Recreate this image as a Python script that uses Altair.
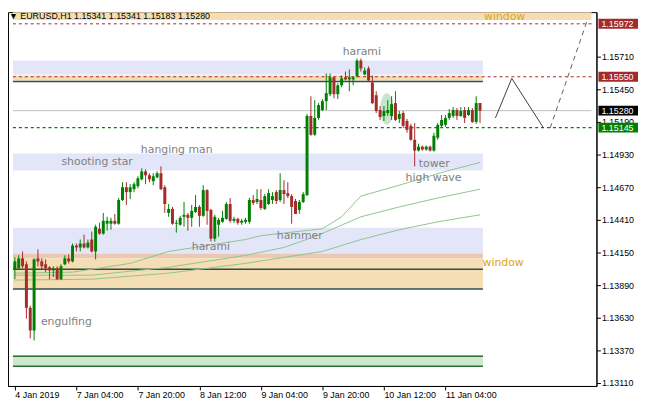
import altair as alt
import pandas as pd

# ---------------- data ----------------
opens = [1.14016,1.14024,1.14103,1.14056,1.13709,1.13528,1.14103,1.14079,1.14056,1.14032,
1.14008,1.14024,1.13937,1.14056,1.14103,1.14079,1.14205,1.14190,1.14221,1.14190,
1.14253,1.14158,1.14339,1.14300,1.14379,1.14379,1.14402,1.14379,1.14568,1.14670,
1.14631,1.14654,1.14678,1.14733,1.14796,1.14765,1.14718,1.14749,1.14781,1.14670,
1.14465,1.14497,1.14379,1.14371,1.14434,1.14450,1.14426,1.14473,1.14513,1.14442,
1.14647,1.14489,1.14260,1.14371,1.14394,1.14418,1.14536,1.14402,1.14418,1.14387,
1.14394,1.14394,1.14568,1.14552,1.14568,1.14497,1.14536,1.14568,1.14631,1.14568,
1.14647,1.14623,1.14599,1.14560,1.14489,1.14552,1.14607,1.15238,1.15088,1.15222,
1.15285,1.15356,1.15411,1.15545,1.15411,1.15482,1.15545,1.15529,1.15529,1.15553,
1.15679,1.15569,1.15616,1.15505,1.15403,1.15285,1.15238,1.15261,1.15238,1.15340,
1.15214,1.15261,1.15198,1.15159,1.15048,1.14962,1.14993,1.14970,1.14993,1.14962,
1.15064,1.15159,1.15167,1.15222,1.15238,1.15285,1.15238,1.15285,1.15245,1.15285,
1.15190,1.15341]
highs = [1.14111,1.14127,1.14158,1.14079,1.13725,1.14103,1.14174,1.14103,1.14095,1.14040,
1.14040,1.14040,1.14056,1.14127,1.14134,1.14221,1.14221,1.14253,1.14292,1.14253,
1.14316,1.14371,1.14387,1.14465,1.14434,1.14426,1.14457,1.14584,1.14710,1.14710,
1.14694,1.14710,1.14757,1.14820,1.14812,1.14781,1.14781,1.14796,1.14836,1.14686,
1.14536,1.14513,1.14410,1.14442,1.14552,1.14465,1.14528,1.14607,1.14528,1.14686,
1.14654,1.14497,1.14450,1.14426,1.14481,1.14552,1.14584,1.14434,1.14426,1.14418,
1.14426,1.14584,1.14607,1.14654,1.14654,1.14615,1.14654,1.14631,1.14647,1.14781,
1.14725,1.14710,1.14615,1.14576,1.14568,1.14631,1.15253,1.15395,1.15364,1.15340,
1.15372,1.15576,1.15576,1.15553,1.15498,1.15561,1.15592,1.15608,1.15553,1.15695,
1.15695,1.15624,1.15632,1.15561,1.15435,1.15316,1.15316,1.15364,1.15395,1.15435,
1.15277,1.15277,1.15214,1.15175,1.15182,1.15017,1.15001,1.15001,1.15001,1.15104,
1.15182,1.15245,1.15245,1.15293,1.15309,1.15301,1.15309,1.15309,1.15309,1.15301,
1.15395,1.15341]
lows = [1.13937,1.14016,1.14024,1.13622,1.13465,1.13449,1.14040,1.14016,1.13993,1.13937,
1.13953,1.13930,1.13930,1.14048,1.14063,1.14071,1.14158,1.14158,1.14182,1.14182,
1.14150,1.14095,1.14292,1.14292,1.14324,1.14331,1.14371,1.14371,1.14560,1.14528,
1.14576,1.14631,1.14662,1.14725,1.14694,1.14710,1.14686,1.14741,1.14647,1.14465,
1.14434,1.14371,1.14308,1.14363,1.14355,1.14324,1.14355,1.14465,1.14355,1.14434,
1.14371,1.14237,1.14237,1.14276,1.14387,1.14410,1.14387,1.14387,1.14371,1.14371,
1.14379,1.14379,1.14528,1.14536,1.14489,1.14489,1.14528,1.14536,1.14536,1.14552,
1.14536,1.14584,1.14379,1.14457,1.14457,1.14544,1.14599,1.15080,1.15080,1.15206,
1.15277,1.15285,1.15395,1.15379,1.15372,1.15466,1.15521,1.15435,1.15482,1.15545,
1.15592,1.15561,1.15513,1.15332,1.15261,1.15206,1.15198,1.15238,1.15206,1.15198,
1.15182,1.15143,1.15104,1.15041,1.14836,1.14954,1.14962,1.14962,1.14954,1.14954,
1.15048,1.15143,1.15151,1.15206,1.15222,1.15206,1.15230,1.15182,1.15238,1.15182,
1.15175,1.15183]
closes = [1.14079,1.14103,1.14040,1.13709,1.13528,1.14095,1.14079,1.14040,1.14024,1.14008,
1.14024,1.13937,1.14040,1.14103,1.14079,1.14205,1.14190,1.14221,1.14190,1.14229,
1.14158,1.14355,1.14300,1.14402,1.14402,1.14402,1.14379,1.14568,1.14670,1.14631,
1.14670,1.14694,1.14741,1.14796,1.14765,1.14733,1.14757,1.14781,1.14654,1.14536,
1.14497,1.14379,1.14387,1.14426,1.14450,1.14426,1.14481,1.14513,1.14442,1.14647,
1.14481,1.14260,1.14434,1.14410,1.14426,1.14536,1.14402,1.14418,1.14387,1.14402,
1.14410,1.14568,1.14544,1.14576,1.14505,1.14599,1.14623,1.14599,1.14560,1.14647,
1.14615,1.14599,1.14513,1.14457,1.14552,1.14615,1.15238,1.15088,1.15222,1.15324,
1.15356,1.15419,1.15545,1.15411,1.15482,1.15537,1.15529,1.15545,1.15545,1.15679,
1.15616,1.15600,1.15521,1.15340,1.15277,1.15230,1.15277,1.15285,1.15332,1.15206,
1.15253,1.15159,1.15127,1.15048,1.14962,1.14993,1.14970,1.14993,1.14962,1.15080,
1.15167,1.15206,1.15222,1.15261,1.15285,1.15238,1.15277,1.15222,1.15285,1.15190,
1.15340,1.15280]

# moving averages (bar index, price)
ma1_bars = [0, 15, 30, 40, 50, 60, 64, 80, 85, 90, 100, 112, 121]
ma1_vals = [1.13985, 1.13993, 1.14063, 1.14158, 1.14205, 1.14253, 1.14284, 1.14339, 1.14434, 1.14599, 1.14686, 1.14796, 1.14867]
ma2_bars = [0, 20, 40, 60, 70, 78, 90, 100, 110, 121]
ma2_vals = [1.13969, 1.13969, 1.14032, 1.14127, 1.14190, 1.14276, 1.14434, 1.14513, 1.14584, 1.14654]
ma3_bars = [0, 20, 40, 60, 80, 90, 100, 110, 121]
ma3_vals = [1.13930, 1.13937, 1.13985, 1.14063, 1.14158, 1.14253, 1.14331, 1.14394, 1.14450]

# zones (price low, price high, colour)
zone_lo = [1.16002, 1.15569, 1.15521, 1.14804, 1.14142, 1.14103, 1.13859, 1.13236]
zone_hi = [1.16065, 1.15679, 1.15561, 1.14938, 1.14347, 1.14142, 1.14103, 1.13331]
zone_end = [150, 121.75, 121.75, 121.75, 121.75, 121.75, 121.75, 121.75]
zone_col = ["#F5DEB3", "#E3E5F9", "#F5DEB3", "#E3E5F9", "#E3E5F9", "#EBC7B5", "#F5DEB3", "#CDE8CD"]

# dark support/resistance lines
dark_levels = [1.15513, 1.14016, 1.13859, 1.13323, 1.13244]
dark_cols = ["#2F4F4F", "#2F4F4F", "#2F4F4F", "#2E6B3A", "#2E6B3A"]

# levels across the chart
red_levels = [1.15972, 1.15550]
green_level = [1.15145]
current_price = [1.15280]

# projection path
proj_solid_x = [125, 129.25, 137.5]
proj_solid_y = [1.15222, 1.15537, 1.15143]
proj_dash_x = [139.25, 148.75]
proj_dash_y = [1.15143, 1.15986]

# pattern labels
lbl_text = ["harami", "hanging man", "shooting star", "harami", "hammer", "tower", "high wave", "engulfing", "window", "window"]
lbl_x = [90.25, 42.1, 21.4, 51.0, 74.1, 109.1, 108.9, 13.4, 127.4, 127.0]
lbl_y = [1.15750, 1.14970, 1.14867, 1.14197, 1.14284, 1.14851, 1.14741, 1.13599, 1.16026, 1.14064]
lbl_col = ["#808080"] * 8 + ["#DAA520", "#DAA520"]

# price tags on the right axis
tag_price = [1.15972, 1.15550, 1.15280, 1.15145]
tag_col = ["#A52A2A", "#A52A2A", "#000000", "#008000"]

y_ticks = [1.13110, 1.13370, 1.13630, 1.13890, 1.14150, 1.14410, 1.14670, 1.14930, 1.15190, 1.15450, 1.15710]
x_tick_bars = [0, 16, 32, 48, 64, 80, 96, 112]
x_tick_labels = ["4 Jan 2019", "7 Jan 04:00", "7 Jan 20:00", "8 Jan 12:00",
                 "9 Jan 04:00", "9 Jan 20:00", "10 Jan 12:00", "11 Jan 04:00"]

title_text = "\u25bc EURUSD,H1  1.15341 1.15341 1.15183 1.15280"

# ---------------- build ----------------
FONT = "Liberation Sans"
xs = alt.Scale(domain=[-0.5, 150], nice=False, zero=False)
ys = alt.Scale(domain=[1.13086, 1.16065], nice=False, zero=False)
label_expr = "[" + ",".join("'%s'" % s for s in x_tick_labels) + "][round(datum.value/16)]"
x_axis = alt.Axis(values=x_tick_bars, labelExpr=label_expr, title=None, grid=False,
                  labelAlign="left", tickSize=4, labelPadding=1, labelFlush=False,
                  labelOverlap=False, domainColor="black", tickColor="black")
y_axis = alt.Axis(values=y_ticks, format=".5f", orient="right", title=None, grid=False,
                  tickSize=4, labelPadding=1, domainColor="black", tickColor="black",
                  labelOverlap=False)

def X(f):
    return alt.X(f, type="quantitative", scale=xs, axis=x_axis)

def Y(f):
    return alt.Y(f, type="quantitative", scale=ys, axis=y_axis)

n = len(opens)
cdf = pd.DataFrame({"bar": list(range(n)), "open": opens, "high": highs, "low": lows, "close": closes})
cdf["color"] = ["#008000" if c >= o else "#A52A2A" for o, c in zip(opens, closes)]

zdf = pd.DataFrame({"x0": [-0.5] * len(zone_lo), "x1": zone_end, "lo": zone_lo, "hi": zone_hi, "col": zone_col})
zones = alt.Chart(zdf).mark_rect().encode(
    x=X("x0"), x2="x1", y=Y("lo"), y2="hi", color=alt.Color("col:N", scale=None))

ddf = pd.DataFrame({"x0": -0.5, "x1": 121.75, "y": dark_levels, "col": dark_cols})
dark = alt.Chart(ddf).mark_rule(strokeWidth=1.5).encode(
    x=X("x0"), x2="x1", y=Y("y"), color=alt.Color("col:N", scale=None))

ma_rows = []
for name, bs, vs in (("ma1", ma1_bars, ma1_vals), ("ma2", ma2_bars, ma2_vals), ("ma3", ma3_bars, ma3_vals)):
    for b, v in zip(bs, vs):
        ma_rows.append({"ma": name, "bar": b, "v": v})
mas = alt.Chart(pd.DataFrame(ma_rows)).mark_line(strokeWidth=1, color="#8FC48F").encode(
    x=X("bar"), y=Y("v"), detail="ma:N")

edf = pd.DataFrame({"bar": [96.75], "y": [1.15293]})
ellipse = alt.Chart(edf).mark_point(
    shape="M -0.42 0 A 0.42 1 0 1 0 0.42 0 A 0.42 1 0 1 0 -0.42 0 Z",
    size=1024, filled=True, color="#BFE3C6", opacity=0.9).encode(x=X("bar"), y=Y("y"))

rdf = pd.DataFrame({"x0": -0.5, "x1": 150, "y": red_levels})
red_lines = alt.Chart(rdf).mark_rule(color="#B22222", strokeDash=[3, 3], strokeWidth=1).encode(
    x=X("x0"), x2="x1", y=Y("y"))
gdf = pd.DataFrame({"x0": -0.5, "x1": 150, "y": green_level})
green_lines = alt.Chart(gdf).mark_rule(color="#008000", strokeDash=[3, 3], strokeWidth=1.3).encode(
    x=X("x0"), x2="x1", y=Y("y"))
cpdf = pd.DataFrame({"x0": -0.5, "x1": 150, "y": current_price})
cur_line = alt.Chart(cpdf).mark_rule(color="#C0C0C0", strokeWidth=1).encode(
    x=X("x0"), x2="x1", y=Y("y"))

wicks = alt.Chart(cdf).mark_rule(strokeWidth=1).encode(
    x=X("bar"), y=Y("low"), y2="high", color=alt.Color("color:N", scale=None))
bodies = alt.Chart(cdf).mark_bar(size=3).encode(
    x=X("bar"), y=Y("open"), y2="close", color=alt.Color("color:N", scale=None))

psdf = pd.DataFrame({"bar": proj_solid_x, "y": proj_solid_y, "o": range(len(proj_solid_x))})
proj_solid = alt.Chart(psdf).mark_line(color="#404040", strokeWidth=1).encode(
    x=X("bar"), y=Y("y"), order="o:Q")
pddf = pd.DataFrame({"bar": proj_dash_x, "y": proj_dash_y})
proj_dash = alt.Chart(pddf).mark_line(color="#606060", strokeWidth=1, strokeDash=[5, 4]).encode(
    x=X("bar"), y=Y("y"))

ldf = pd.DataFrame({"bar": lbl_x, "y": lbl_y, "t": lbl_text, "col": lbl_col})
labels = alt.Chart(ldf).mark_text(font="DejaVu Sans", fontSize=11, align="center", baseline="middle").encode(
    x=X("bar"), y=Y("y"), text="t:N", color=alt.Color("col:N", scale=None))

tdf = pd.DataFrame({"p": tag_price, "col": tag_col, "t": ["%.5f" % p for p in tag_price]})
tag_box = alt.Chart(tdf).mark_rect(yOffset=-5, y2Offset=5).encode(
    x=alt.value(597), x2=alt.value(637), y=Y("p"), y2="p", color=alt.Color("col:N", scale=None))
tag_txt = alt.Chart(tdf).mark_text(font=FONT, fontSize=9, align="left", baseline="middle", color="white").encode(
    x=alt.value(600), y=Y("p"), text="t:N")

title = alt.Chart(pd.DataFrame({"t": [title_text]})).mark_text(
    font=FONT, fontSize=9, align="left", baseline="top", color="black").encode(
    x=alt.value(1), y=alt.value(0), text="t:N")

chart = alt.layer(
    zones, dark, mas, ellipse, cur_line, red_lines, green_lines,
    wicks, bodies, proj_solid, proj_dash, labels, tag_box, tag_txt, title
).properties(width=595, height=378, padding=0, background="white").configure_view(
    stroke="black", strokeWidth=1
).configure_axis(
    labelFont=FONT, labelFontSize=9, labelColor="black"
)

chart.save("out.html", embed_options={"renderer": "svg", "actions": False})
